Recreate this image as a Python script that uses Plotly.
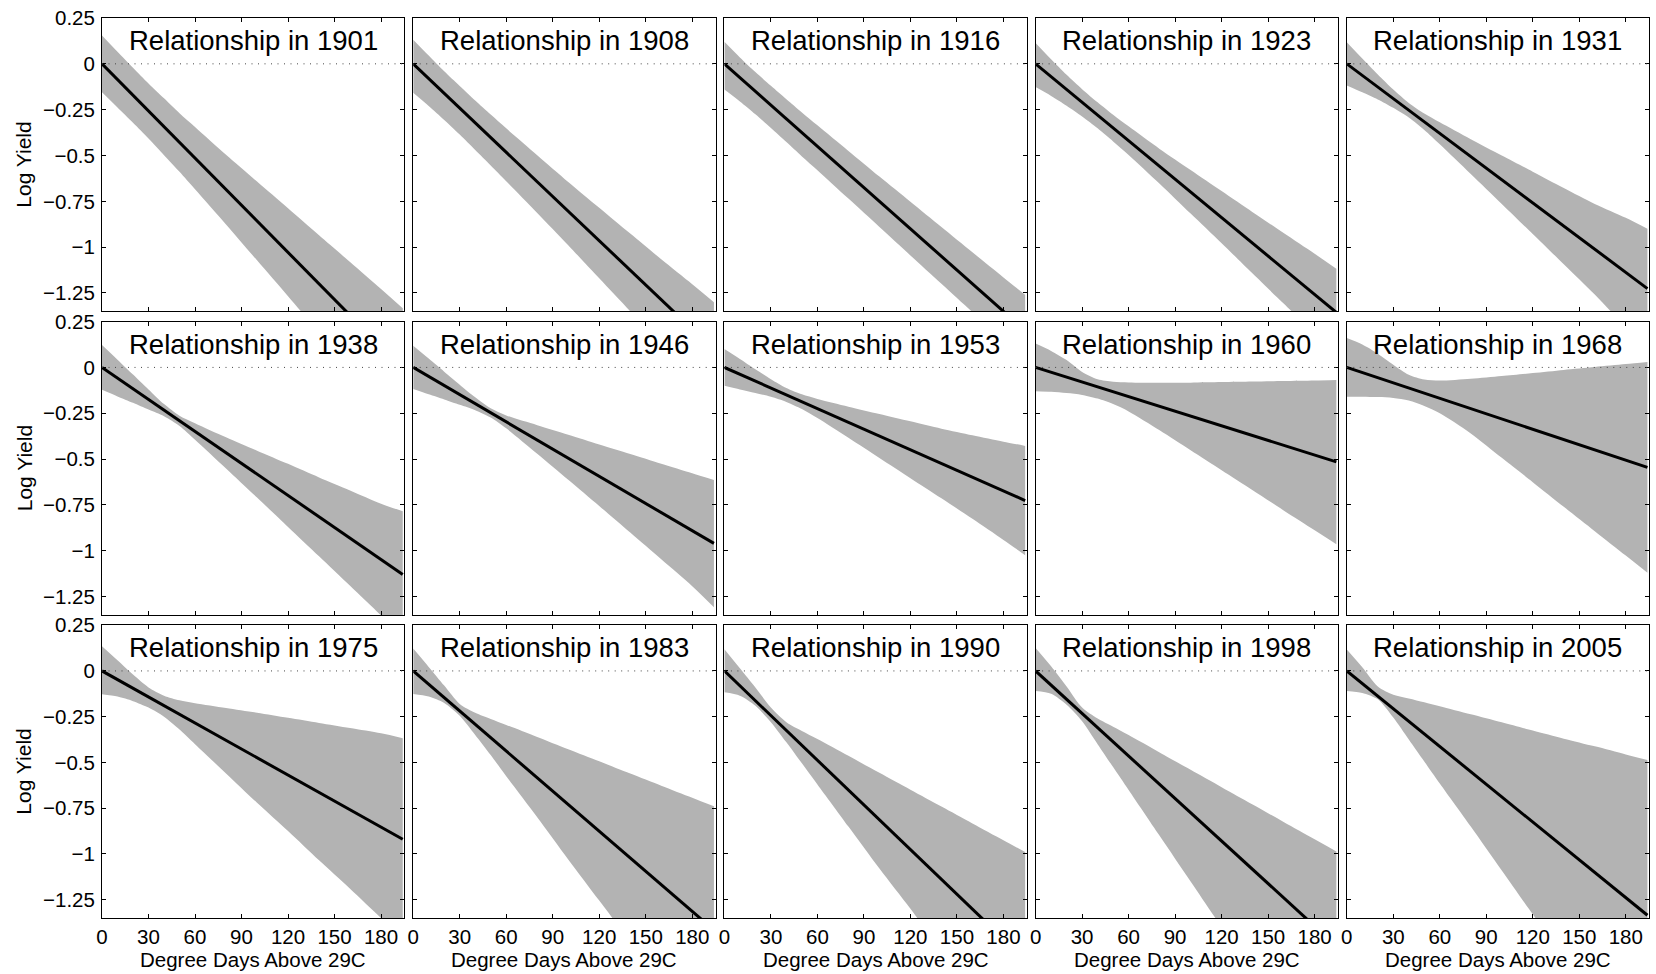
import plotly.graph_objects as go

# ---------------- data ----------------
YEARS = [1901, 1908, 1916, 1923, 1931,
         1938, 1946, 1953, 1960, 1968,
         1975, 1983, 1990, 1998, 2005]

# x positions (degree days above 29C) where the confidence band edges were read
X_GRID = [0, 10, 20, 30, 40, 50, 60, 80, 100, 120, 140, 160, 180, 194]
X_END = 194
# value of the fitted line at X_END (line starts at 0,0)
LINE_END = [-1.663, -1.560, -1.455, -1.356, -1.226,
            -1.129, -0.960, -0.726, -0.515, -0.545,
            -0.920, -1.416, -1.578, -1.503, -1.335]

UPPER_1901 = [0.155, 0.066, -0.021, -0.107, -0.188, -0.269, -0.344, -0.496, -0.642, -0.788, -0.935, -1.081, -1.228, -1.333]
LOWER_1901 = [-0.155, -0.238, -0.321, -0.407, -0.498, -0.589, -0.684, -0.876, -1.072, -1.268, -1.465, -1.661, -1.858, -1.993]
UPPER_1908 = [0.132, 0.045, -0.041, -0.121, -0.200, -0.277, -0.352, -0.498, -0.644, -0.785, -0.926, -1.066, -1.202, -1.300]
LOWER_1908 = [-0.158, -0.230, -0.306, -0.386, -0.470, -0.554, -0.640, -0.813, -0.989, -1.170, -1.350, -1.531, -1.712, -1.840]
UPPER_1916 = [0.12, 0.035, -0.045, -0.12, -0.193, -0.265, -0.335, -0.475, -0.615, -0.752, -0.89, -1.028, -1.165, -1.26]
LOWER_1916 = [-0.14, -0.205, -0.275, -0.35, -0.427, -0.505, -0.58, -0.735, -0.89, -1.045, -1.2, -1.355, -1.51, -1.62]
UPPER_1923 = [0.114, 0.025, -0.06, -0.138, -0.21, -0.278, -0.341, -0.464, -0.579, -0.694, -0.809, -0.923, -1.036, -1.118]
LOWER_1923 = [-0.127, -0.175, -0.228, -0.287, -0.352, -0.423, -0.497, -0.654, -0.817, -0.979, -1.144, -1.308, -1.473, -1.588]
UPPER_1931 = [0.118, 0.029, -0.058, -0.14, -0.213, -0.271, -0.319, -0.411, -0.5, -0.588, -0.677, -0.764, -0.84, -0.9]
LOWER_1931 = [-0.118, -0.155, -0.194, -0.24, -0.293, -0.361, -0.439, -0.601, -0.764, -0.928, -1.093, -1.258, -1.436, -1.552]
UPPER_1938 = [0.122, 0.042, -0.039, -0.12, -0.2, -0.263, -0.304, -0.381, -0.454, -0.526, -0.6, -0.671, -0.743, -0.784]
LOWER_1938 = [-0.122, -0.158, -0.193, -0.23, -0.266, -0.319, -0.394, -0.551, -0.71, -0.87, -1.03, -1.191, -1.353, -1.474]
UPPER_1946 = [0.118, 0.048, -0.023, -0.094, -0.163, -0.223, -0.262, -0.315, -0.367, -0.42, -0.472, -0.525, -0.577, -0.614]
LOWER_1946 = [-0.118, -0.147, -0.175, -0.204, -0.233, -0.273, -0.332, -0.471, -0.613, -0.756, -0.901, -1.047, -1.193, -1.308]
UPPER_1953 = [0.1, 0.046, -0.01, -0.064, -0.112, -0.147, -0.172, -0.214, -0.254, -0.294, -0.334, -0.37, -0.405, -0.428]
LOWER_1953 = [-0.1, -0.12, -0.14, -0.16, -0.188, -0.227, -0.276, -0.384, -0.494, -0.604, -0.714, -0.826, -0.941, -1.024]
UPPER_1960 = [0.13, 0.09, 0.04, -0.025, -0.065, -0.078, -0.082, -0.084, -0.083, -0.08, -0.077, -0.074, -0.071, -0.068]
LOWER_1960 = [-0.13, -0.133, -0.14, -0.15, -0.17, -0.2, -0.24, -0.343, -0.452, -0.561, -0.67, -0.78, -0.888, -0.964]
UPPER_1968 = [0.16, 0.125, 0.075, 0.015, -0.04, -0.066, -0.072, -0.062, -0.047, -0.031, -0.014, 0.002, 0.018, 0.03]
LOWER_1968 = [-0.16, -0.16, -0.162, -0.167, -0.18, -0.21, -0.25, -0.36, -0.493, -0.626, -0.76, -0.893, -1.026, -1.12]
UPPER_1975 = [0.135, 0.058, -0.02, -0.09, -0.135, -0.16, -0.176, -0.202, -0.228, -0.256, -0.284, -0.312, -0.341, -0.368]
LOWER_1975 = [-0.128, -0.14, -0.165, -0.2, -0.25, -0.32, -0.4, -0.56, -0.72, -0.875, -1.035, -1.19, -1.35, -1.46]
UPPER_1983 = [0.122, 0.022, -0.08, -0.18, -0.228, -0.262, -0.295, -0.361, -0.428, -0.494, -0.561, -0.627, -0.693, -0.74]
LOWER_1983 = [-0.126, -0.14, -0.175, -0.245, -0.35, -0.46, -0.575, -0.8, -1.03, -1.255, -1.48, -1.71, -1.94, -2.1]
UPPER_1990 = [0.119, 0.015, -0.09, -0.2, -0.28, -0.328, -0.372, -0.464, -0.557, -0.649, -0.741, -0.833, -0.925, -0.99]
LOWER_1990 = [-0.117, -0.135, -0.19, -0.28, -0.39, -0.505, -0.62, -0.85, -1.08, -1.3, -1.53, -1.76, -1.99, -2.15]
UPPER_1998 = [0.125, 0.025, -0.085, -0.2, -0.26, -0.305, -0.35, -0.445, -0.54, -0.635, -0.73, -0.825, -0.92, -0.986]
LOWER_1998 = [-0.11, -0.125, -0.185, -0.275, -0.4, -0.525, -0.65, -0.9, -1.15, -1.4, -1.65, -1.9, -2.15, -2.33]
UPPER_2005 = [0.117, 0.02, -0.085, -0.13, -0.15, -0.171, -0.193, -0.237, -0.281, -0.326, -0.37, -0.412, -0.456, -0.486]
LOWER_2005 = [-0.109, -0.12, -0.155, -0.255, -0.375, -0.495, -0.615, -0.85, -1.09, -1.33, -1.565, -1.8, -2.04, -2.2]

UPPER = [UPPER_1901, UPPER_1908, UPPER_1916, UPPER_1923, UPPER_1931,
         UPPER_1938, UPPER_1946, UPPER_1953, UPPER_1960, UPPER_1968,
         UPPER_1975, UPPER_1983, UPPER_1990, UPPER_1998, UPPER_2005]
LOWER = [LOWER_1901, LOWER_1908, LOWER_1916, LOWER_1923, LOWER_1931,
         LOWER_1938, LOWER_1946, LOWER_1953, LOWER_1960, LOWER_1968,
         LOWER_1975, LOWER_1983, LOWER_1990, LOWER_1998, LOWER_2005]

X_TICKS = [0, 30, 60, 90, 120, 150, 180]
Y_TICKS = [0.25, 0, -0.25, -0.5, -0.75, -1, -1.25]
Y_TICK_TEXT = ["0.25", "0", "\u22120.25", "\u22120.5", "\u22120.75", "\u22121", "\u22121.25"]
X_RANGE = [0, 195]
Y_RANGE = [-1.35, 0.25]
X_TITLE = "Degree Days Above 29C"
Y_TITLE = "Log Yield"

# ---------------- layout ----------------
W, H = 1656, 974
ML, MR, MT, MB = 102, 6, 15, 56
PW, PH = W - ML - MR, H - MT - MB
COL_PITCH, PANEL_W = 311.4, 302.5
ROW_PITCH, PANEL_H = 304.6, 294.3
FONT = "Arial, Liberation Sans, Helvetica, sans-serif"
BAND = "rgb(179,179,179)"


def clamp(v):
    return max(0.0, min(1.0, v))


fig = go.Figure()
layout = {}
shapes = []
annotations = []

for i, year in enumerate(YEARS):
    r, c = divmod(i, 5)
    n = i + 1
    xa = "x" if n == 1 else f"x{n}"
    ya = "y" if n == 1 else f"y{n}"
    xkey = "xaxis" if n == 1 else f"xaxis{n}"
    ykey = "yaxis" if n == 1 else f"yaxis{n}"
    x0 = clamp(c * COL_PITCH / PW)
    x1 = clamp((c * COL_PITCH + PANEL_W) / PW)
    ytop = clamp(1 - r * ROW_PITCH / PH)
    ybot = clamp(1 - (r * ROW_PITCH + PANEL_H) / PH)

    fig.add_trace(go.Scatter(x=X_GRID, y=UPPER[i], mode="lines",
                             line=dict(width=0, shape="spline", smoothing=0.8),
                             xaxis=xa, yaxis=ya, showlegend=False, hoverinfo="skip"))
    fig.add_trace(go.Scatter(x=X_GRID, y=LOWER[i], mode="lines",
                             line=dict(width=0, shape="spline", smoothing=0.8),
                             fill="tonexty", fillcolor=BAND,
                             xaxis=xa, yaxis=ya, showlegend=False, hoverinfo="skip"))
    fig.add_trace(go.Scatter(x=[0, X_END], y=[0, LINE_END[i]], mode="lines",
                             line=dict(color="black", width=3),
                             xaxis=xa, yaxis=ya, showlegend=False))

    common = dict(showline=True, linecolor="black", linewidth=1, mirror="ticks",
                  ticks="inside", ticklen=4, tickwidth=1, tickcolor="black",
                  showgrid=False, zeroline=False,
                  tickfont=dict(family=FONT, size=20.5, color="black"))
    layout[xkey] = dict(domain=[x0, x1], range=X_RANGE, anchor=ya,
                        tickvals=X_TICKS, showticklabels=(r == 2), **common)
    layout[ykey] = dict(domain=[ybot, ytop], range=Y_RANGE, anchor=xa,
                        tickvals=Y_TICKS, ticktext=Y_TICK_TEXT, ticklabelstandoff=2,
                        showticklabels=(c == 0), **common)

    shapes.append(dict(type="line", xref=f"{xa} domain", yref=ya,
                       x0=0, x1=1, y0=0, y1=0, layer="above",
                       line=dict(color="rgb(70,70,70)", width=1, dash="1px,5.5px")))
    annotations.append(dict(text=f"Relationship in {year}", xref=f"{xa} domain",
                            yref=f"{ya} domain", x=0.5, y=1 - 22.8 / PANEL_H,
                            xanchor="center", yanchor="middle", showarrow=False,
                            font=dict(family=FONT, size=27.5, color="black")))
    if c == 0:
        annotations.append(dict(text=Y_TITLE, xref="paper", yref="paper",
                                x=(24 - ML) / PW, y=(ytop + ybot) / 2,
                                xanchor="center", yanchor="middle", textangle=-90,
                                showarrow=False,
                                font=dict(family=FONT, size=21, color="black")))
    if r == 2:
        annotations.append(dict(text=X_TITLE, xref="paper", yref="paper",
                                x=(x0 + x1) / 2, y=1 - (960 - MT) / PH,
                                xanchor="center", yanchor="middle", showarrow=False,
                                font=dict(family=FONT, size=20.5, color="black")))

fig.update_layout(width=W, height=H, margin=dict(l=ML, r=MR, t=MT, b=MB),
                  paper_bgcolor="white", plot_bgcolor="white",
                  shapes=shapes, annotations=annotations, showlegend=False,
                  **layout)
fig.write_html("out.html", config={"displayModeBar": False},
               post_script="document.body.style.margin='0px';document.body.style.overflow='hidden';")
